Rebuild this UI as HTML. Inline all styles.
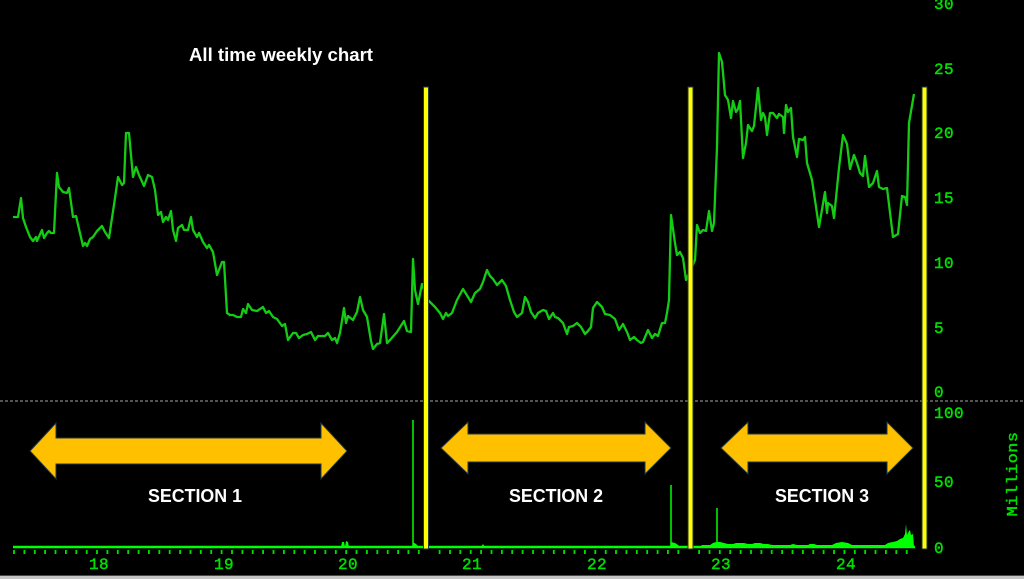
<!DOCTYPE html>
<html><head><meta charset="utf-8"><style>
html,body{margin:0;padding:0;background:#000;}
svg{display:block;}
</style></head><body>
<svg width="1024" height="579" viewBox="0 0 1024 579" xmlns="http://www.w3.org/2000/svg">
<rect x="0" y="0" width="1024" height="579" fill="#000"/>
<!-- separator -->
<line x1="0" y1="401" x2="1024" y2="401" stroke="#707070" stroke-width="1.5" stroke-dasharray="3,2"/>
<!-- bottom bar -->
<rect x="0" y="575" width="1024" height="1" fill="#4a4a4a"/>
<rect x="0" y="576" width="1024" height="3" fill="#c4c4c4"/>

<!-- title -->
<text x="189" y="61" font-family="Liberation Sans, Arial, sans-serif" font-weight="bold" font-size="18" fill="#fff" textLength="184" lengthAdjust="spacingAndGlyphs">All time weekly chart</text>

<!-- right axis labels -->
<g font-family="Liberation Mono, DejaVu Sans Mono, monospace" font-size="16" fill="#00e000" stroke="#00e000" stroke-width="0.45" letter-spacing="0.4">
<text x="934" y="9">30</text>
<text x="934" y="74">25</text>
<text x="934" y="138">20</text>
<text x="934" y="203">15</text>
<text x="934" y="268">10</text>
<text x="934" y="333">5</text>
<text x="934" y="397">0</text>
<text x="934" y="418">100</text>
<text x="934" y="487">50</text>
<text x="934" y="553">0</text>
<text x="0" y="0" transform="translate(1017,474) rotate(-90)" text-anchor="middle" font-size="15" textLength="85" lengthAdjust="spacingAndGlyphs">Millions</text>
</g>

<!-- x axis labels -->
<g font-family="Liberation Mono, DejaVu Sans Mono, monospace" font-size="16" fill="#00e000" stroke="#00e000" stroke-width="0.45" text-anchor="middle" letter-spacing="0.4">
<text x="99" y="569">18</text>
<text x="224" y="569">19</text>
<text x="348" y="569">20</text>
<text x="472" y="569">21</text>
<text x="597" y="569">22</text>
<text x="721" y="569">23</text>
<text x="846" y="569">24</text>
</g>

<!-- price line -->
<polyline fill="none" stroke="#14cc14" stroke-width="2.3" stroke-linejoin="round" points="13,217 18,217 21,198 23,218 26,227 30,237 33,241 36,237 37,241 42,230 44,238 47,233 49,231 51,233 54,233 57,173 59,187 63,192 67,193 69,188 73,217 76,216 83,246 85,243 87,246 90,239 93,237 97,231 99,229 102,226 105,232 109,238 115,198 118,177 122,185 124,183 126,133 129,133 133,177 136,167 139,175 144,186 148,175 152,177 155,190 158,215 161,212 163,222 166,217 168,220 171,211 173,230 176,241 178,228 182,225 184,230 188,230 191,217 193,230 197,237 199,233 203,242 207,248 209,245 213,252 217,275 222,262 224,262 227,313 230,315 233,315 237,317 241,317 243,309 246,313 248,304 252,310 257,311 260,309 263,307 266,313 269,311 273,317 277,319 282,326 285,324 288,340 293,333 296,333 299,338 303,335 307,334 311,332 315,340 318,336 325,336 328,333 332,340 335,338 337,343 340,333 344,308 346,323 348,316 353,320 357,312 360,297 363,310 367,317 371,341 373,349 377,344 380,343 384,314 387,343 390,340 397,332 404,321 407,331 411,332 413,259 415,290 418,304 422,284 428,300 432,304 435,307 440,313 443,319 446,313 448,316 452,313 457,300 463,289 468,297 471,302 475,293 480,289 483,282 487,270 490,276 493,279 497,285 502,280 506,286 510,300 514,312 517,317 522,313 525,297 528,302 531,312 535,318 538,313 543,310 546,311 549,319 553,313 555,317 558,318 563,323 567,334 569,327 573,326 577,323 581,327 585,334 588,331 591,327 593,308 597,302 602,307 605,314 610,315 615,319 619,330 623,324 627,332 630,340 634,337 637,340 641,343 643,342 648,330 652,338 655,334 658,336 662,323 665,323 667,313 669,300 671,215 675,243 677,255 680,252 683,258 686,280 695,260 697,225 700,233 703,230 706,231 709,211 712,231 714,223 717,147 719,53 722,62 725,95 728,100 731,118 733,101 736,112 738,109 740,101 743,158 746,143 748,125 752,131 754,126 758,88 761,120 763,113 765,117 767,135 770,113 773,113 777,118 779,114 783,117 784,133 786,105 788,112 791,108 793,137 797,157 799,139 803,140 805,137 807,163 812,180 819,227 825,192 827,213 828,203 832,206 834,218 839,168 843,135 847,144 850,169 854,155 857,163 860,173 863,176 865,156 869,187 873,183 877,171 879,187 883,189 887,188 893,237 898,234 902,196 905,197 907,205 909,123 914,94"/>

<!-- volume -->
<g fill="#00ff00" stroke="#00ff00">
<line x1="13" y1="547" x2="915" y2="547" stroke-width="2.6"/>
<polygon stroke="none" points="341,547 342,542 344,542 345,547 346,541 348,542 349,547"/>
<line x1="413" y1="547" x2="413" y2="420" stroke-width="1.5"/>
<polygon stroke="none" points="413,547 413,542 416,544 419,547"/>
<polygon stroke="none" points="481,547 483,544 485,547"/>
<line x1="671" y1="547" x2="671" y2="485" stroke-width="1.5"/>
<polygon stroke="none" points="670,547 671,542 675,543 678,545 680,547"/>
<line x1="717" y1="547" x2="717" y2="508" stroke-width="1.5"/>
<polygon stroke="none" points="700,547 702,545 710,545 713,543 716,542 720,542 724,543 728,544 733,544 736,543 744,543 748,544 752,544 755,543 760,543 764,544 768,544 772,545 790,545 793,544 797,545 808,545 810,544 814,544 817,545 832,545 836,543 842,542 848,543 852,545 885,545 888,543 893,542 897,541 900,539 903,538 905,534 906,524 907,535 909,531 910,530 911,535 913,534 914,547"/>
</g>

<!-- arrows -->
<g fill="#ffc000" stroke="#20384a" stroke-width="1">
<polygon points="30,451 56,423 56,438 321,438 321,423 347,451 321,479 321,464 56,464 56,479"/>
<polygon points="441,448 468,422 468,434 645,434 645,422 671,448 645,474 645,462 468,462 468,474"/>
<polygon points="721,448 748,422 748,434 887,434 887,422 913,448 887,474 887,462 748,462 748,474"/>
</g>

<!-- section labels -->
<g font-family="Liberation Sans, Arial, sans-serif" font-weight="bold" font-size="18" fill="#fff" text-anchor="middle">
<text x="195" y="502" textLength="94" lengthAdjust="spacingAndGlyphs">SECTION 1</text>
<text x="556" y="502" textLength="94" lengthAdjust="spacingAndGlyphs">SECTION 2</text>
<text x="822" y="502" textLength="94" lengthAdjust="spacingAndGlyphs">SECTION 3</text>
</g>

<!-- yellow vertical lines -->
<g fill="#ffff00" stroke="#1e3648" stroke-width="1">
<rect x="423.5" y="87" width="5" height="462"/>
<rect x="688" y="87" width="5" height="462"/>
<rect x="922" y="87" width="5" height="462"/>
</g>

<!-- ticks -->
<g stroke="#00e000" stroke-width="1.8">
<path d="M14,550v4 M24.4,550v4 M34.8,550v4 M45.1,550v4 M55.5,550v4 M65.9,550v4 M76.3,550v4 M86.7,550v4 M97,550v4 M107.4,550v4 M117.8,550v4 M128.2,550v4 M138.6,550v4 M148.9,550v4 M159.3,550v4 M169.7,550v4 M180.1,550v4 M190.5,550v4 M200.8,550v4 M211.2,550v4 M221.6,550v4 M232,550v4 M242.4,550v4 M252.7,550v4 M263.1,550v4 M273.5,550v4 M283.9,550v4 M294.3,550v4 M304.6,550v4 M315,550v4 M325.4,550v4 M335.8,550v4 M346.2,550v4 M356.5,550v4 M366.9,550v4 M377.3,550v4 M387.7,550v4 M398.1,550v4 M408.4,550v4 M418.8,550v4 M439.6,550v4 M450,550v4 M460.3,550v4 M470.7,550v4 M481.1,550v4 M491.5,550v4 M501.9,550v4 M512.2,550v4 M522.6,550v4 M533,550v4 M543.4,550v4 M553.8,550v4 M564.1,550v4 M574.5,550v4 M584.9,550v4 M595.3,550v4 M605.7,550v4 M616,550v4 M626.4,550v4 M636.8,550v4 M647.2,550v4 M657.6,550v4 M667.9,550v4 M678.3,550v4 M699.1,550v4 M709.5,550v4 M719.8,550v4 M730.2,550v4 M740.6,550v4 M751,550v4 M761.4,550v4 M771.7,550v4 M782.1,550v4 M792.5,550v4 M802.9,550v4 M813.3,550v4 M823.6,550v4 M834,550v4 M844.4,550v4 M854.8,550v4 M865.2,550v4 M875.5,550v4 M885.9,550v4 M896.3,550v4 M906.7,550v4"/>
</g>
</svg>
</body></html>
